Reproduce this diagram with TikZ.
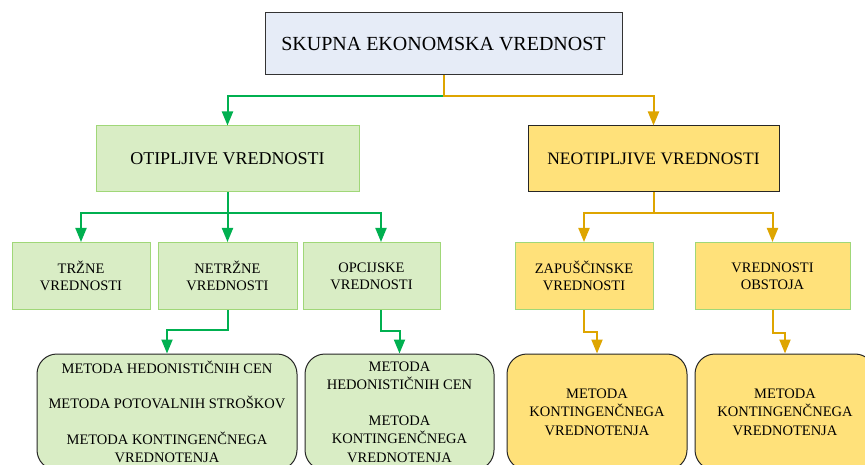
\documentclass[tikz,border=0pt]{standalone}
\usepackage{fontspec}
\setmainfont{Liberation Serif}
\usetikzlibrary{arrows.meta}
\definecolor{topfill}{RGB}{230,236,247}
\definecolor{grfill}{RGB}{217,237,197}
\definecolor{grline}{RGB}{160,215,120}
\definecolor{yefill}{RGB}{255,225,122}
\definecolor{grarrow}{RGB}{0,176,80}
\definecolor{yearrow}{RGB}{222,165,0}

\begin{document}
\begin{tikzpicture}[x=1pt,y=-1pt,
        box/.style={rectangle,inner sep=0pt,align=center,font=\fontsize{14.5}{17}\selectfont},
        green box/.style={box,draw=grline,line width=1pt,fill=grfill},
        yellow box/.style={box,draw=grline,line width=1pt,fill=yefill},
        method/.style={box,rounded corners=20pt,draw=black!85,line width=1pt,minimum height=116pt,font=\fontsize{14.5}{18.5}\selectfont},
        garrow/.style={draw=grarrow,line width=2pt,-{Triangle[length=14pt,width=11pt]}},
        yarrow/.style={draw=yearrow,line width=2pt,-{Triangle[length=14pt,width=11pt]}}]
    \clip (0,0) rectangle (865,465);
    \node[box,draw=black!80,line width=1pt,fill=topfill,minimum width=357pt,minimum height=62pt,
          font=\fontsize{20}{24}\selectfont] (sev) at (443.5,44) {SKUPNA EKONOMSKA VREDNOST};
    \node[green box,minimum width=263pt,minimum height=66pt,font=\fontsize{18}{22}\selectfont] (otip) at (227.5,159) {OTIPLJIVE VREDNOSTI};
    \node[yellow box,draw=black!85,minimum width=251pt,minimum height=66pt,font=\fontsize{17.5}{22}\selectfont] (neotip) at (653.5,159) {NEOTIPLJIVE VREDNOSTI};

    \node[green box,minimum width=138pt,minimum height=67pt] (trz) at (81,276) {TRŽNE\\VREDNOSTI};
    \node[green box,minimum width=139pt,minimum height=67pt] (netrz) at (227.5,276) {NETRŽNE\\VREDNOSTI};
    \node[green box,minimum width=137pt,minimum height=67pt] (opc) at (371.5,276) {OPCIJSKE\\VREDNOSTI};
    \node[yellow box,minimum width=138pt,minimum height=67pt] (zap) at (584,276) {ZAPUŠČINSKE\\VREDNOSTI};
    \node[yellow box,minimum width=155pt,minimum height=67pt] (obs) at (772.5,276) {VREDNOSTI\\OBSTOJA};

    \node[method,fill=grfill,minimum width=260pt] (hed) at (167,412) {METODA HEDONISTIČNIH CEN\\[17pt]METODA POTOVALNIH STROŠKOV\\[17pt]METODA KONTINGENČNEGA\\VREDNOTENJA};
    \node[method,fill=grfill,minimum width=189pt] (opcmet) at (399.5,412) {METODA\\HEDONISTIČNIH CEN\\[17pt]METODA\\KONTINGENČNEGA\\VREDNOTENJA};
    \node[method,fill=yefill,minimum width=180pt] (zapmet) at (597,412) {METODA\\KONTINGENČNEGA\\VREDNOTENJA};
    \node[method,fill=yefill,minimum width=180pt] (obsmet) at (785,412) {METODA\\KONTINGENČNEGA\\VREDNOTENJA};

    \draw[garrow] (sev.south) -- ++(0,21) -| (otip.north);
    \draw[yarrow] (sev.south) -- ++(0,21) -| (neotip.north);
    \draw[garrow] (otip.south) -- ++(0,21) -| (trz.north);
    \draw[garrow] (otip.south) -- (netrz.north);
    \draw[garrow] (otip.south) -- ++(0,21) -| ([xshift=9.5pt]opc.north);
    \draw[yarrow] (neotip.south) -- ++(0,21) -| (zap.north);
    \draw[yarrow] (neotip.south) -- ++(0,21) -| (obs.north);
    \draw[garrow] (netrz.south) -- ++(0,20) -| (hed.north);
    \draw[garrow] ([xshift=9.5pt]opc.south) -- ++(0,21) -| (opcmet.north);
    \draw[yarrow] (zap.south) -- ++(0,22) -| (zapmet.north);
    \draw[yarrow] (obs.south) -- ++(0,23) -| (obsmet.north);
\end{tikzpicture}
\end{document}
